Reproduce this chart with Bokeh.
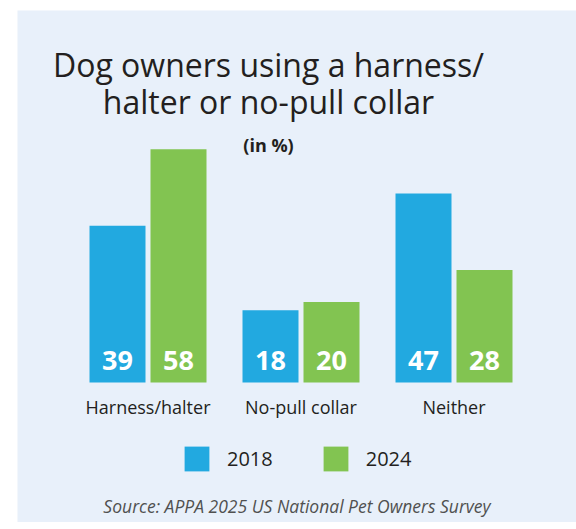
from bokeh.plotting import figure
from bokeh.models import Range1d, ColumnDataSource, Legend, LegendItem
from bokeh.transform import dodge
from bokeh.core.properties import value
from bokeh.embed import file_html
from bokeh.resources import INLINE

categories = ["Harness/halter", "No-pull collar", "Neither"]
years = ["2018", "2024"]
values_2018 = [39, 18, 47]
values_2024 = [58, 20, 28]
title_lines = ["Dog owners using a harness/", "halter or no-pull collar"]
subtitle = "(in %)"
source_note = "Source: APPA 2025 US National Pet Owners Survey"

BLUE = "#22A9E0"
GREEN = "#82C451"
BG = "#E8F0FA"
DARK = "#231F20"
FONT = "Open Sans"

W, H = 559, 512
PX_X = 153.0   # pixels per category step
PX_Y = 4.02    # pixels per percent
x0_px = 130.5  # pixel of first group centre
y0_px = 372.0  # pixel (from top) of the zero line

x_start = -x0_px / PX_X
x_end = (W - x0_px) / PX_X
y_start = -(H - y0_px) / PX_Y
y_end = y0_px / PX_Y

xs = list(range(len(categories)))
src = ColumnDataSource(dict(
    x=xs, cat=categories,
    v18=values_2018, v24=values_2024,
    t18=[str(v) for v in values_2018], t24=[str(v) for v in values_2024],
))

p = figure(width=W, height=H, output_backend="svg", toolbar_location=None,
           x_range=Range1d(x_start, x_end), y_range=Range1d(y_start, y_end),
           x_axis_location=None, y_axis_location=None,
           min_border=0, min_border_left=0, min_border_right=0,
           min_border_top=0, min_border_bottom=0,
           background_fill_color=BG, border_fill_color=BG,
           outline_line_color=None)
p.margin = (10, 0, 0, 17)
p.grid.visible = False

bw = 56 / PX_X
off = 30.5 / PX_X
r1 = p.vbar(x=dodge("x", -off, range=p.x_range), top="v18", bottom=0, width=bw,
            source=src, fill_color=BLUE, line_color=None)
r2 = p.vbar(x=dodge("x", off, range=p.x_range), top="v24", bottom=0, width=bw,
            source=src, fill_color=GREEN, line_color=None)

common = dict(text_font=value(FONT), text_align="center")
p.text(x=dodge("x", -off, range=p.x_range), y=0, text="t18", source=src,
       text_color="white", text_font_size="27px", text_font_style="bold",
       text_baseline="alphabetic", y_offset=-22, **common)
p.text(x=dodge("x", off, range=p.x_range), y=0, text="t24", source=src,
       text_color="white", text_font_size="27px", text_font_style="bold",
       text_baseline="alphabetic", y_offset=-22, **common)

# category labels
p.text(x="x", y=0, text="cat", source=src, text_color=DARK,
       text_font_size="18px", text_baseline="alphabetic", y_offset=24, **common)

# title
tx = (251 - x0_px) / PX_X
p.text(x=[tx, tx], y=[(382 - 76) / PX_Y, (382 - 113) / PX_Y], text=title_lines,
       text_color=DARK, text_font_size="32px", text_baseline="alphabetic",
       y_offset=-12, **common)
p.text(x=[tx], y=[(382 - 151) / PX_Y], text=[subtitle], text_color=DARK,
       text_font_size="18px", text_font_style="bold", text_baseline="alphabetic",
       y_offset=-7, **common)

# source
sx = (296.5 - 17 - x0_px) / PX_X
p.text(x=[sx], y=[(382 - 511.5) / PX_Y], text=[source_note], text_color="#505050",
       text_font_size="17.5px", text_font_style="italic", text_baseline="alphabetic",
       y_offset=-6, **common)

legend = Legend(items=[LegendItem(label=years[0], renderers=[r1]),
                       LegendItem(label=years[1], renderers=[r2])],
                orientation="horizontal", location=(164, 48),
                glyph_width=31, glyph_height=31, label_standoff=15, spacing=47,
                padding=0, margin=0, border_line_color=None, background_fill_alpha=0,
                label_text_font=FONT, label_text_font_size="20px", label_text_color=DARK,
                label_height=31)
p.add_layout(legend, "center")

open("out.html", "w").write(file_html(p, INLINE))
